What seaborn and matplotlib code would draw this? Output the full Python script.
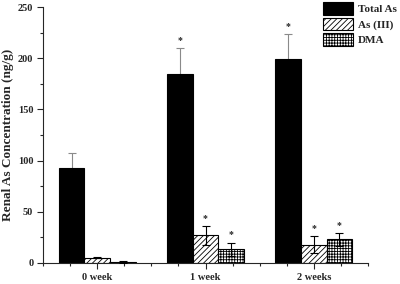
import numpy as np
import pandas as pd
import matplotlib
matplotlib.use("Agg")
import matplotlib.pyplot as plt
from matplotlib.ticker import MultipleLocator
from matplotlib.patches import Patch
import seaborn as sns

# --- Data ---
weeks = ["0 week", "1 week", "2 weeks"]
series = ["Total As", "As (III)", "DMA"]
total_as = [93, 185, 199]
total_as_err = [14, 25, 25]
as_iii = [5, 27, 18]
as_iii_err = [0.6, 9, 8]
dma = [1, 13.5, 23]
dma_err = [0.6, 6.5, 6.5]
starred = [False, True, True]  # significance marks per week

df = pd.DataFrame({
    "Week": weeks * 3,
    "Series": [s for s in series for _ in weeks],
    "Value": total_as + as_iii + dma,
    "Err": total_as_err + as_iii_err + dma_err,
})

sns.set_style("ticks")
plt.rcParams["font.family"] = ["Liberation Serif", "DejaVu Serif"]
plt.rcParams["hatch.linewidth"] = 0.6

fig = plt.figure(figsize=(4, 2.84), dpi=100)
ax = fig.add_axes([0.1075, 0.074, 0.8125, 0.901])

sns.barplot(data=df, x="Week", y="Value", hue="Series", order=weeks,
            hue_order=series, width=0.71, errorbar=None, dodge=True,
            palette=["black", "white", "white"], edgecolor="black",
            linewidth=0.8, legend=False, ax=ax, zorder=2)

hatches = {"Total As": "", "As (III)": "//////", "DMA": "++++++"}
ecolors = {"Total As": "#8a8a8a", "As (III)": "black", "DMA": "black"}
ezorder = {"Total As": 1, "As (III)": 3, "DMA": 3}

# patches come in hue order, then category order
for i, s in enumerate(series):
    sub = df[df["Series"] == s].set_index("Week").loc[weeks]
    for j, w in enumerate(weeks):
        p = ax.patches[i * len(weeks) + j]
        p.set_hatch(hatches[s])
        xc = p.get_x() + p.get_width() / 2
        val, err = sub.loc[w, "Value"], sub.loc[w, "Err"]
        ax.errorbar(xc, val, yerr=err, fmt="none", ecolor=ecolors[s],
                    elinewidth=0.8, capsize=3, capthick=0.8, zorder=ezorder[s])
        if starred[j]:
            ax.text(xc, val + err + 3, "*", ha="center", va="bottom",
                    fontsize=7, fontweight="bold")

ax.set_xlim(-0.5, 2.5)
ax.set_ylim(0, 250)
ax.yaxis.set_major_locator(MultipleLocator(50))
ax.yaxis.set_minor_locator(MultipleLocator(25))
ax.set_xticks([0, 1, 2])
ax.set_xticks([-0.5, -0.25, 0.25, 0.5, 0.75, 1.25, 1.5, 1.75, 2.25, 2.5], minor=True)
ax.set_xticklabels(weeks, fontsize=7.5, fontweight="bold")
for lab in ax.get_yticklabels():
    lab.set_fontsize(7.5)
    lab.set_fontweight("bold")
ax.tick_params(axis="both", which="major", length=4, width=0.8, pad=3)
ax.tick_params(axis="both", which="minor", length=2.5, width=0.8)
ax.set_xlabel("")
ax.set_ylabel("Renal As Concentration (ng/g)", fontsize=9.5, fontweight="bold")
ax.yaxis.set_label_coords(-0.088, 0.5)
sns.despine(ax=ax)
for sp in ["left", "bottom"]:
    ax.spines[sp].set_linewidth(0.8)

handles = [Patch(facecolor=("black" if s == "Total As" else "white"),
                 edgecolor="black", hatch=hatches[s], linewidth=0.8)
           for s in series]
fig.legend(handles, series, loc="upper left", bbox_to_anchor=(0.805, 0.997),
           frameon=False, handlelength=2.7, handleheight=1.4, handletextpad=0.4,
           labelspacing=0.25, borderaxespad=0, borderpad=0.1,
           prop={"size": 8, "weight": "bold"})

fig.savefig("out.png", dpi=100)
